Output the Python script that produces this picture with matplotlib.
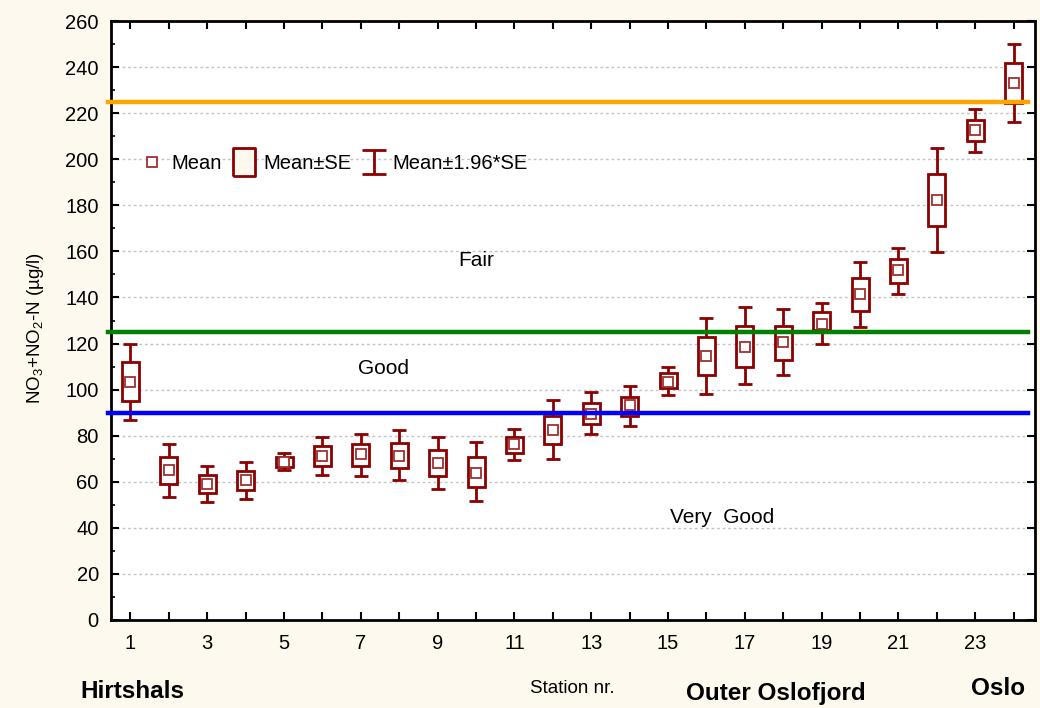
import numpy as np
import matplotlib
matplotlib.use("Agg")
import matplotlib.pyplot as plt
from matplotlib.lines import Line2D
from matplotlib.path import Path

plt.rcParams['font.family'] = ['Liberation Sans', 'DejaVu Sans']
plt.rcParams['mathtext.default'] = 'regular'

# values
stations = np.arange(1, 25)
mean = [103.5, 65, 59, 60.7, 68.5, 71, 72, 71, 68, 64, 76.3, 82.3,
        89.3, 93.2, 103.5, 114.4, 118.7, 120.5, 128.7, 141.7, 152.1, 182.4, 212.8, 233.1]
se_lo = [95, 59, 55, 56.3, 66.3, 66.7, 66.7, 65.9, 62.4, 57.6, 72.4, 76.3,
         84.9, 88.4, 100.5, 106.2, 110, 113, 126, 134.3, 146.5, 171.2, 208, 224.5]
se_hi = [111.8, 70.6, 62.8, 64.6, 70.6, 75.4, 76.3, 76.7, 73.7, 70.6, 79.3, 88.4,
         94, 97, 107, 123, 127.8, 127.8, 133.5, 148.6, 156.9, 193.7, 217.1, 241.8]
ci_lo = [86.7, 53.3, 51.1, 52.4, 65, 62.8, 62.4, 60.7, 56.8, 51.6, 69.3, 69.8,
         80.6, 84, 97.5, 98, 102.3, 106.2, 120, 127.4, 141.7, 159.9, 203.2, 216.2]
ci_hi = [119.6, 76.3, 66.7, 68.5, 72.4, 79.3, 80.6, 82.3, 79.3, 77.1, 82.8, 95.3,
         98.8, 101.4, 110, 130.9, 136, 134.8, 137.8, 155.6, 161.6, 205, 221.9, 250]

limits = [225, 125, 90]
limit_colors = ['#ffa500', '#008000', '#0000ff']
classes = ['Fair', 'Good', 'Very  Good']
class_x = [10.0, 7.6, 16.4]
class_y = [156, 109, 44.6]

red = '#8b0000'
mean = np.array(mean)
se_lo, se_hi = np.array(se_lo), np.array(se_hi)
ci_lo, ci_hi = np.array(ci_lo), np.array(ci_hi)

fig = plt.figure(figsize=(10.4, 7.08), dpi=100, facecolor='#fdf9ee')
ax = fig.add_axes([0.107, 0.1243, 0.888, 0.846])
ax.set_facecolor('white')

# whiskers, boxes, mean squares
ax.errorbar(stations, mean, yerr=[mean - ci_lo, ci_hi - mean], fmt='none',
            ecolor=red, elinewidth=2, capsize=5, capthick=2, zorder=2)
ax.bar(stations, se_hi - se_lo, bottom=se_lo, width=0.44, facecolor='white',
       edgecolor=red, linewidth=2, zorder=3)
ax.plot(stations, mean, ls='none', marker='s', ms=7.5, mfc='white', mec='#a03030',
        mew=1.3, zorder=4)

for lv, c in zip(limits, limit_colors):
    ax.axhline(lv, xmin=-0.004, xmax=0.993, color=c, lw=3.2, zorder=5, clip_on=False)

for t, x, y in zip(classes, class_x, class_y):
    ax.text(x, y, t, ha='center', va='center', fontsize=15)

ax.set_xlim(0.5, 24.55)
ax.set_ylim(0, 260)
ax.set_xticks(stations)
ax.set_xticklabels([str(s) if s % 2 == 1 else '' for s in stations])
ax.set_yticks(np.arange(0, 261, 20))
ax.set_yticks(np.arange(0, 261, 10), minor=True)
ax.tick_params(axis='both', which='major', direction='in', length=6, width=1.5,
               labelsize=14.5, top=True, right=True)
ax.tick_params(axis='x', pad=10)
ax.tick_params(axis='y', pad=9)
ax.tick_params(axis='y', which='minor', direction='in', length=3, width=1.2, right=False)
ax.grid(axis='y', which='major', color='#c4c4c4', linestyle=(0, (2, 2)), lw=1, zorder=0)
ax.set_axisbelow(True)
for s in ax.spines.values():
    s.set_linewidth(2)

# legend
ibeam = Path([(-0.5, 0.5), (0.5, 0.5), (0, 0.5), (0, -0.5), (-0.5, -0.5), (0.5, -0.5)],
             [Path.MOVETO, Path.LINETO, Path.MOVETO, Path.LINETO, Path.MOVETO, Path.LINETO])
tall_box = [(-0.4, -0.5), (0.4, -0.5), (0.4, 0.5), (-0.4, 0.5), (-0.4, -0.5)]
handles = [
    Line2D([], [], ls='none', marker='s', ms=7.5, mfc='white', mec='#a03030', mew=1.3),
    Line2D([], [], ls='none', marker=tall_box, ms=20, mfc='#fdf9ee', mec=red, mew=2),
    Line2D([], [], ls='none', marker=ibeam, ms=17, mfc='none', mec=red, mew=2),
]
ax.legend(handles, ['Mean', 'Mean±SE', 'Mean±1.96*SE'], loc='center left',
          bbox_to_anchor=(0.025, 0.762), ncol=3, frameon=False, fontsize=14.5,
          handlelength=1.0, handletextpad=0.45, columnspacing=0.6, borderaxespad=0)

fig.text(0.034, 0.537, r'NO$_3$+NO$_2$-N (µg/l)', rotation=90, ha='center',
         va='center', fontsize=13.5)
fig.text(0.55, 0.028, 'Station nr.', ha='center', va='center', fontsize=13.5)
fig.text(0.077, 0.023, 'Hirtshals', ha='left', va='center', fontsize=17.5, fontweight='bold')
fig.text(0.746, 0.02, 'Outer Oslofjord', ha='center', va='center', fontsize=17.5,
         fontweight='bold')
fig.text(0.96, 0.028, 'Oslo', ha='center', va='center', fontsize=17.5, fontweight='bold')

fig.savefig('out.png', dpi=100, facecolor=fig.get_facecolor())
